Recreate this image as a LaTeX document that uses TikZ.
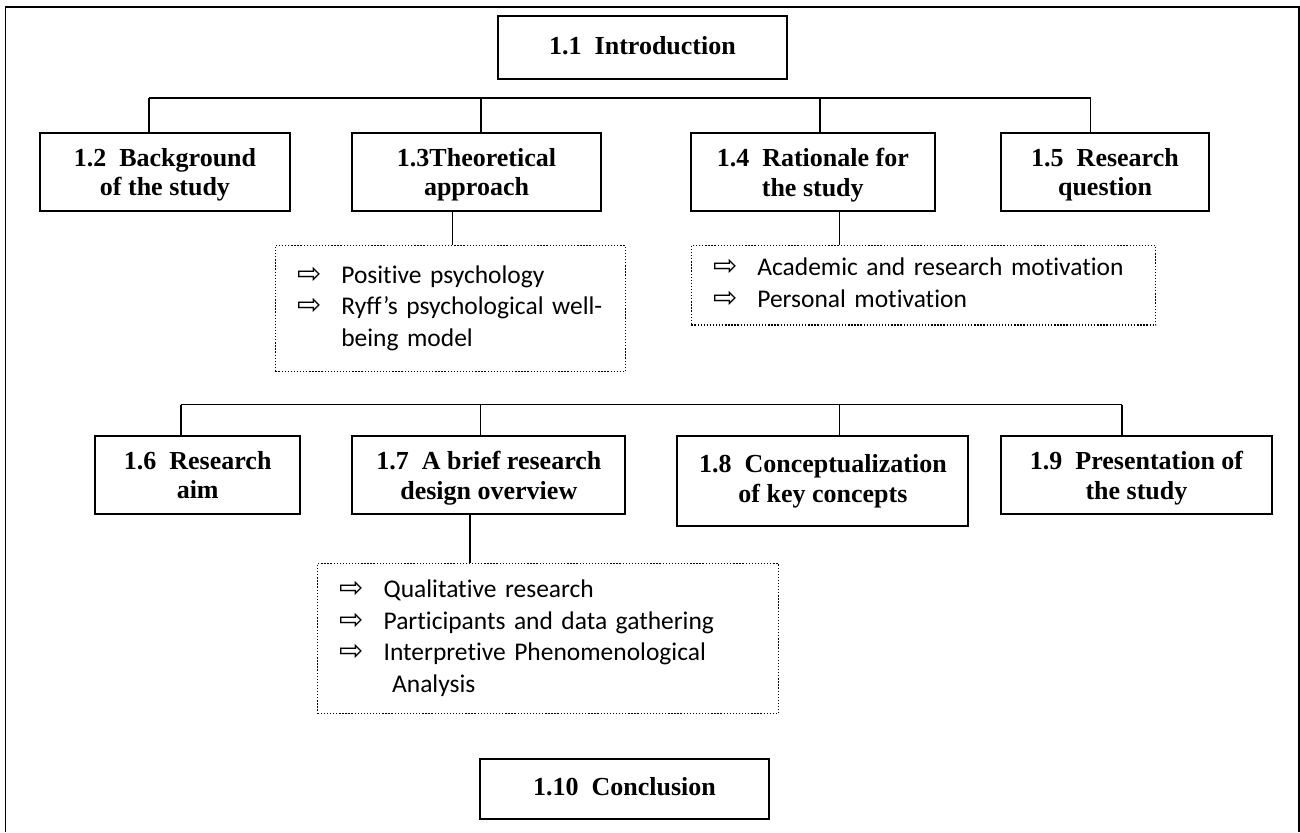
\documentclass[tikz,border=0pt]{standalone}
\usepackage{fontspec}
\setmainfont{Liberation Serif}
\newfontfamily\carlito[Ligatures=NoCommon]{Carlito}
\newfontfamily\arrowsym{DejaVu Sans}

\newcommand{\titlefont}{\bfseries\fontsize{14.8}{17}\selectfont}
\newcommand{\listfont}{\carlito\fontsize{14.5}{18}\selectfont}
\newcommand{\bul}{{\arrowsym\fontsize{16.5}{16.5}\selectfont ⇨}}

\tikzset{
  secbox/.style={rectangle, draw=black, line width=1.1pt, align=center,
                 font=\titlefont, inner sep=0pt, minimum height=1.56cm,
                 text depth=0pt},
  listbox/.style={rectangle, draw=black, line width=0.75pt,
                  dash pattern=on 0.75pt off 1pt, anchor=north west,
                  inner xsep=0.44cm, inner ysep=0pt, align=left,
                  font=\listfont},
  link/.style={draw=black, line width=0.9pt},
  frame/.style={draw=black, line width=1.1pt}
}

\begin{document}
\begin{tikzpicture}[x=0.02cm, y=-0.02cm]

  \useasboundingbox (0,0) rectangle (1300,832);
  \draw[frame] (5.5,832) -- (5.5,7.3) -- (1299.3,7.3) -- (1299.3,832);

  % top level
  \node[secbox, minimum width=5.78cm, minimum height=1.26cm, text depth=0.1cm]
      (intro) at (642.5,47.5) {1.1\ \ Introduction};

  % first row
  \node[secbox, minimum width=5.0cm]  (b12) at (165,172)   {1.2\ \ Background\\of the study};
  \node[secbox, minimum width=4.98cm] (b13) at (476.5,172) {1.3Theoretical\\approach};
  \node[secbox, minimum width=4.89cm] (b14) at (812.8,172) {1.4\ \ Rationale for\\the study};
  \node[secbox, minimum width=4.16cm] (b15) at (1105,172)  {1.5\ \ Research\\question};

  \node[listbox, text width=6.12cm, minimum height=2.52cm] (lstA) at (274.7,245)
      {\begin{tabular}{@{}p{0.88cm}@{}l@{}}
         \bul & Positive psychology\\
         \bul & Ryff’s psychological well-\\
              & being model
       \end{tabular}};
  \node[listbox, text width=8.41cm, minimum height=1.59cm] (lstB) at (690.7,245)
      {\begin{tabular}{@{}p{0.88cm}@{}l@{}}
         \bul & Academic and research motivation\\
         \bul & Personal motivation
       \end{tabular}};

  % second row
  \node[secbox, minimum width=4.1cm]  (b16) at (197.7,475)  {1.6\ \ Research\\aim};
  \node[secbox, minimum width=5.46cm] (b17) at (488.8,475)  {1.7\ \ A brief research\\design overview};
  \node[secbox, minimum width=5.82cm, minimum height=1.8cm, text depth=0.1cm]
      (b18) at (822.9,481) {1.8\ \ Conceptualization\\of key concepts};
  \node[secbox, minimum width=5.42cm] (b19) at (1136.5,475) {1.9\ \ Presentation of\\the study};

  \node[listbox, text width=8.34cm, minimum height=3.0cm] (lstC) at (317,563)
      {\begin{tabular}{@{}p{0.88cm}@{}l@{}}
         \bul & Qualitative research\\
         \bul & Participants and data gathering\\
         \bul & Interpretive Phenomenological\\
              & \ Analysis
       \end{tabular}};

  \node[secbox, minimum width=5.78cm, minimum height=1.2cm, text depth=0.1cm]
      (concl) at (624.5,789) {1.10\ \ Conclusion};

  % junctions
  \coordinate (j12) at (149,98);
  \coordinate (j13) at (481,98);
  \coordinate (j14) at (819.7,98);
  \coordinate (j15) at (1090.5,98);
  \coordinate (j16) at (181,404.5);
  \coordinate (j17) at (480.7,404.5);
  \coordinate (j18) at (839.6,404.5);
  \coordinate (j19) at (1122,404.5);
  \coordinate (s13) at (452.3,0);
  \coordinate (s14) at (839.6,0);
  \coordinate (s17) at (470,0);

  \draw[link] (j12) -- (j15);
  \foreach \j/\b in {j12/b12, j13/b13, j14/b14, j15/b15}
    \draw[link] (\j) -- (\j |- \b.north);
  \draw[link] (b13.south -| s13) -- (lstA.north -| s13);
  \draw[link] (b14.south -| s14) -- (lstB.north -| s14);

  \draw[link] (j16) -- (j19);
  \foreach \j/\b in {j16/b16, j17/b17, j18/b18, j19/b19}
    \draw[link] (\j) -- (\j |- \b.north);
  \draw[link] (b17.south -| s17) -- (lstC.north -| s17);

\end{tikzpicture}
\end{document}
